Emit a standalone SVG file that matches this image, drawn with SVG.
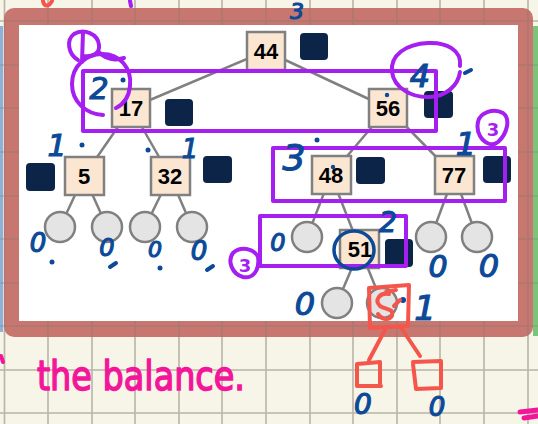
<svg xmlns="http://www.w3.org/2000/svg" width="538" height="424" viewBox="0 0 538 424">
<style>
.grid line{stroke:#d9d4c6;stroke-width:1.6}
.node rect.k{fill:#fbe6d2;stroke:#808080;stroke-width:2.5}
.node text{font-family:"Liberation Sans",Arial,sans-serif;font-weight:bold;font-size:22px;fill:#000;text-anchor:middle}
.dk{fill:#0b2447}
.nil{fill:#e4e4e4;stroke:#808080;stroke-width:2.5}
.edges line{stroke:#808080;stroke-width:2.5}
.pp{fill:none;stroke:#a51ff0;stroke-width:4;stroke-linecap:round;stroke-linejoin:round}
.bl{font-family:"DejaVu Sans",sans-serif;fill:#0c4a98;stroke:#0c4a98;stroke-width:1.2;text-anchor:middle;font-style:italic}
.bd{fill:#0c4a98}
.rd{fill:none;stroke:#f4564c;stroke-width:4;stroke-linecap:round;stroke-linejoin:round}
</style>
<defs>
<g id="gridlines" class="grid">
<line x1="4.5" y1="0" x2="4.5" y2="424"/><line x1="48" y1="0" x2="48" y2="424"/><line x1="92" y1="0" x2="92" y2="424"/><line x1="135" y1="0" x2="135" y2="424"/><line x1="179" y1="0" x2="179" y2="424"/><line x1="222" y1="0" x2="222" y2="424"/><line x1="266" y1="0" x2="266" y2="424"/><line x1="310" y1="0" x2="310" y2="424"/><line x1="353" y1="0" x2="353" y2="424"/><line x1="397" y1="0" x2="397" y2="424"/><line x1="440" y1="0" x2="440" y2="424"/><line x1="484" y1="0" x2="484" y2="424"/><line x1="528" y1="0" x2="528" y2="424"/>
<line x1="0" y1="21" x2="538" y2="21"/><line x1="0" y1="65" x2="538" y2="65"/><line x1="0" y1="108" x2="538" y2="108"/><line x1="0" y1="152" x2="538" y2="152"/><line x1="0" y1="196" x2="538" y2="196"/><line x1="0" y1="239" x2="538" y2="239"/><line x1="0" y1="283" x2="538" y2="283"/><line x1="0" y1="326" x2="538" y2="326"/><line x1="0" y1="370" x2="538" y2="370"/><line x1="0" y1="413" x2="538" y2="413"/>
</g>
</defs>
<rect width="538" height="424" fill="#f7f4e8"/>
<use href="#gridlines"/>
<rect x="0" y="26" width="3" height="306" fill="#8fb0d8"/>
<rect x="533" y="26" width="5" height="310" fill="#7cc47a"/>
<rect x="4" y="8" width="529" height="329" rx="10" fill="#c2655f" opacity="0.88"/>
<use href="#gridlines" opacity="0.35" style="filter:brightness(0.6)"/>
<rect x="19" y="25" width="499" height="296" fill="#ffffff"/>

<g class="edges">
<line x1="266" y1="51" x2="131" y2="108"/><line x1="266" y1="51" x2="388" y2="108"/>
<line x1="131" y1="108" x2="84" y2="176"/><line x1="131" y1="108" x2="170" y2="176"/>
<line x1="388" y1="108" x2="331" y2="175"/><line x1="388" y1="108" x2="454" y2="175"/>
<line x1="84" y1="176" x2="60" y2="227"/><line x1="84" y1="176" x2="107" y2="227"/>
<line x1="170" y1="176" x2="145" y2="227"/><line x1="170" y1="176" x2="192" y2="227"/>
<line x1="331" y1="175" x2="307" y2="237"/><line x1="331" y1="175" x2="360" y2="249"/>
<line x1="454" y1="175" x2="431" y2="237"/><line x1="454" y1="175" x2="477" y2="237"/>
<line x1="360" y1="249" x2="337" y2="303"/><line x1="360" y1="249" x2="382" y2="303"/>
</g>

<g id="nil-5a"><circle class="nil" cx="60" cy="227" r="15"/></g>
<g id="nil-5b"><circle class="nil" cx="107" cy="227" r="15"/></g>
<g id="nil-32a"><circle class="nil" cx="145" cy="227" r="15"/></g>
<g id="nil-32b"><circle class="nil" cx="192" cy="227" r="15"/></g>
<g id="nil-48a"><circle class="nil" cx="307" cy="237" r="15"/></g>
<g id="nil-77a"><circle class="nil" cx="431" cy="237" r="15"/></g>
<g id="nil-77b"><circle class="nil" cx="477" cy="237" r="15"/></g>
<g id="nil-51a"><circle class="nil" cx="337" cy="303" r="15"/></g>
<g id="nil-51b"><circle class="nil" cx="382" cy="303" r="15"/></g>

<g id="n44" class="node"><rect class="k" x="247" y="32" width="38" height="38"/><text x="266" y="59">44</text><rect class="dk" x="300" y="33" width="28" height="27" rx="4"/></g>
<g id="n17" class="node"><rect class="k" x="112" y="89" width="38" height="38"/><text x="131" y="116">17</text><rect class="dk" x="165" y="99" width="28" height="27" rx="4"/></g>
<g id="n56" class="node"><rect class="k" x="369" y="89" width="38" height="38"/><text x="388" y="116">56</text><rect class="dk" x="424" y="91" width="29" height="27" rx="4"/></g>
<g id="n5" class="node"><rect class="k" x="65" y="157" width="39" height="38"/><text x="84" y="184">5</text><rect class="dk" x="26" y="163" width="29" height="28" rx="4"/></g>
<g id="n32" class="node"><rect class="k" x="151" y="157" width="39" height="38"/><text x="170" y="184">32</text><rect class="dk" x="203" y="156" width="29" height="27" rx="4"/></g>
<g id="n48" class="node"><rect class="k" x="312" y="156" width="39" height="38"/><text x="331" y="183">48</text><rect class="dk" x="356" y="157" width="29" height="27" rx="4"/></g>
<g id="n77" class="node"><rect class="k" x="435" y="156" width="39" height="38"/><text x="454" y="183">77</text><rect class="dk" x="483" y="156" width="28" height="27" rx="4"/></g>
<g id="n51" class="node"><rect class="k" x="340" y="230" width="39" height="38"/><text x="360" y="257">51</text><rect class="dk" x="385" y="239" width="28" height="28" rx="4"/></g>

<g id="annotations">
<rect class="pp" x="83" y="71" width="353" height="60"/>
<rect class="pp" x="273" y="148" width="232" height="53"/>
<rect class="pp" x="260" y="216" width="146" height="50"/>
<path class="pp" d="M103,115 C86,114 72,102 72,84 C72,66 86,54 102,54 C120,54 132,68 130,86 C129,96 124,104 116,108"/>
<path class="pp" d="M78,60 C68,54 66,40 74,34 C84,28 98,34 99,45 C100,54 92,57 84,56 M83,32 L82,62 M99,52 C106,60 114,61 124,58"/>
<path class="pp" d="M460,66 C462,50 446,42 428,43 C406,44 390,55 392,72 C394,88 412,98 430,97 C446,96 458,86 460,72"/>
<path class="pp" d="M258,257 C254,248 240,246 233,253 C227,261 232,274 243,277 C253,279 260,270 258,257 Z"/>
<text x="245" y="272" font-family="DejaVu Sans,sans-serif" font-size="18" font-weight="bold" fill="#a51ff0" text-anchor="middle">3</text>
<path class="pp" d="M478,122 C480,112 494,108 503,113 C511,119 507,134 498,142 C492,147 484,143 480,136 C477,131 477,127 478,122 Z"/>
<text x="493" y="136" font-family="DejaVu Sans,sans-serif" font-size="18" font-weight="bold" fill="#a51ff0" text-anchor="middle">3</text>
<path class="pp" d="M130,1 L131,6"/>

<ellipse cx="354" cy="250" rx="20" ry="19" fill="none" stroke="#0c4a98" stroke-width="3.5"/>

<text class="bl" x="297" y="19" font-size="22">3</text>
<text class="bl" x="99" y="99" font-size="30">2</text>
<text class="bl" x="420" y="87" font-size="32">4</text>
<text class="bl" x="57" y="156" font-size="30">1</text>
<text class="bl" x="190" y="158" font-size="26">1</text>
<text class="bl" x="294" y="170" font-size="36">3</text>
<text class="bl" x="466" y="155" font-size="32">1</text>
<text class="bl" x="38" y="252" font-size="26">0</text>
<text class="bl" x="107" y="256" font-size="24">0</text>
<text class="bl" x="155" y="257" font-size="22">0</text>
<text class="bl" x="199" y="260" font-size="26">0</text>
<text class="bl" x="278" y="251" font-size="24">0</text>
<text class="bl" x="388" y="232" font-size="28">2</text>
<text class="bl" x="438" y="277" font-size="30">0</text>
<text class="bl" x="489" y="277" font-size="32">0</text>
<text class="bl" x="305" y="315" font-size="32">0</text>
<text class="bl" x="425" y="320" font-size="34">1</text>
<text class="bl" x="363" y="414" font-size="28">0</text>
<text class="bl" x="437" y="416" font-size="26">0</text>
<circle class="bd" cx="123" cy="80" r="2.5"/>
<path d="M465,73 L471,70" stroke="#0c4a98" stroke-width="4" stroke-linecap="round"/>
<circle class="bd" cx="387" cy="95" r="2.2"/>
<circle class="bd" cx="82" cy="145" r="2.5"/>
<circle class="bd" cx="148" cy="150" r="2.5"/>
<circle class="bd" cx="317" cy="140" r="2.5"/>
<circle class="bd" cx="333" cy="167" r="2.2"/>
<circle class="bd" cx="52" cy="262" r="2.5"/>
<path d="M110,267 L116,263 M207,270 L213,266" stroke="#0c4a98" stroke-width="4" stroke-linecap="round"/>
<circle class="bd" cx="160" cy="268" r="2.5"/>
<circle class="bd" cx="403" cy="300" r="3"/>

<path class="rd" d="M369,288 L409,285 L408,326 L370,328 Z"/>
<path class="rd" d="M389,294 C380,292 374,300 380,306 C386,310 394,308 392,316 C388,322 380,318 378,314 M386,292 L396,290 M394,306 L400,300"/>
<path class="rd" d="M386,328 L369,360 M400,326 L420,356"/>
<path class="rd" d="M357,364 L380,362 L380,384 M357,364 L357,386 L381,386"/>
<path class="rd" d="M413,362 L441,361 L441,388 L416,389 L413,364"/>
<path class="rd" d="M43,1 C44,6 48,8 52,1"/>

<text x="141" y="390" font-family="DejaVu Sans,sans-serif" font-size="40" fill="#f4169a" stroke="#f4169a" stroke-width="1.5" text-anchor="middle" textLength="208" lengthAdjust="spacingAndGlyphs">the balance.</text>
<path d="M1,356 L3,362" stroke="#f4169a" stroke-width="4" stroke-linecap="round"/>
<path d="M520,412 L538,410 M524,418 L538,416" stroke="#f4169a" stroke-width="5" stroke-linecap="round"/>
</g>
</svg>
